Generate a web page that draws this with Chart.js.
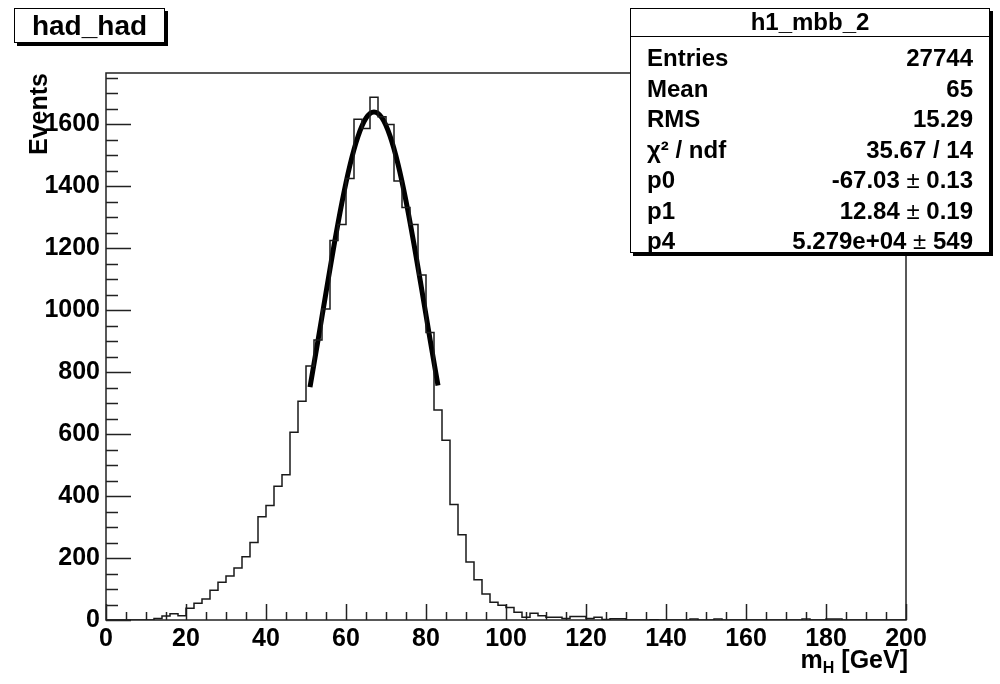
<!DOCTYPE html>
<html>
<head>
<meta charset="utf-8">
<script src="https://cdn.jsdelivr.net/npm/chart.js@4/dist/chart.umd.min.js"></script>
<style>
  body { margin: 0; background: #fff; font-family: "Liberation Sans", Arial, sans-serif; font-weight: bold; }
  #wrap { position: relative; width: 1000px; height: 684px; }
  canvas { position: absolute; left: 0; top: 0; }
  .box { position: absolute; background: #fff; border: 1.5px solid #000; box-shadow: 3px 3px 0 #000; box-sizing: border-box; }
  #title { left: 14px; top: 8px; width: 151px; height: 35px; font-size: 28px; text-align: center; line-height: 33px; }
  #stats { left: 630px; top: 8px; width: 360px; height: 245px; }
  #stats .head { position: absolute; left: 0; right: 0; top: 0; height: 27px; border-bottom: 1.5px solid #000; text-align: center; font-size: 24px; line-height: 26px; }
  #stats .row { position: absolute; left: 16px; right: 16px; height: 30px; font-size: 24px; line-height: 30px; }
  #stats .row .val { position: absolute; right: 0; top: 0; }
  .pm { font-weight: normal; }
  #xtitle { position: absolute; right: 92px; top: 645px; font-size: 25px; }
  #xtitle sub { font-size: 16px; vertical-align: -5px; }
</style>
</head>
<body>
<div id="wrap">
  <canvas id="c" width="1000" height="684"></canvas>
  <div id="title" class="box">had_had</div>
  <div id="stats" class="box"><div class="head">h1_mbb_2</div></div>
  <div id="xtitle">m<sub>H</sub> [GeV]</div>
</div>
<script>
// histogram h1_mbb_2: 100 bins of 2 GeV from 0 to 200
const binWidth = 2;
const counts = [
  0, 0, 0, 0, 0, 0, 5, 13, 20, 14,
  38, 54, 68, 96, 122, 142, 168, 204, 250, 333,
  370, 432, 469, 606, 706, 820, 904, 1004, 1225, 1277,
  1425, 1617, 1587, 1688, 1625, 1600, 1417, 1332, 1277, 1114,
  928, 678, 580, 373, 275, 187, 130, 84, 57, 48,
  40, 25, 9, 22, 14, 9, 9, 5, 11, 11,
  5, 9, 2, 4, 4, 0, 0, 0, 1, 0,
  0, 0, 0, 3, 0, 0, 3, 0, 0, 0,
  0, 0, 0, 0, 0, 0, 0, 3, 0, 0,
  3, 3, 0, 0, 0, 0, 0, 0, 0, 0
];

// fitted curve
const fitX = [51, 53, 55, 57, 59, 61, 63, 65, 67, 69, 71, 73, 75, 77, 79, 81, 83];
const fitY = [752, 903, 1057, 1209, 1349, 1469, 1561, 1620, 1640, 1621, 1563, 1472, 1353, 1213, 1062, 907, 757];

const xTicks = [0, 20, 40, 60, 80, 100, 120, 140, 160, 180, 200];
const yTicks = [0, 200, 400, 600, 800, 1000, 1200, 1400, 1600];
const xMin = 0, xMax = 200, yMax = 1766;

const statRows = [
  ["Entries", "27744"],
  ["Mean", "65"],
  ["RMS", "15.29"],
  ["\u03c7\u00b2 / ndf", "35.67 / 14"],
  ["p0", "-67.03 \u00b1 0.13"],
  ["p1", "12.84 \u00b1 0.19"],
  ["p4", "5.279e+04 \u00b1 549"]
];

const stats = document.getElementById("stats");
statRows.forEach(([k, v], i) => {
  const row = document.createElement("div");
  row.className = "row";
  row.style.top = (34 + i * 30.5) + "px";
  const a = document.createElement("span");
  a.textContent = k;
  const b = document.createElement("span");
  b.className = "val";
  b.innerHTML = v.replace("\u00b1", '<span class="pm">\u00b1</span>');
  row.appendChild(a);
  row.appendChild(b);
  stats.appendChild(row);
});

const histPoints = counts.map((c, i) => ({ x: xMin + i * binWidth, y: c }));
histPoints.push({ x: xMin + counts.length * binWidth, y: counts[counts.length - 1] });
const fitPoints = fitX.map((x, i) => ({ x, y: fitY[i] }));

const axisFont = { family: "Liberation Sans", size: 25, weight: "bold" };

const rootFrame = {
  id: "rootFrame",
  beforeDatasetsDraw(chart) {
    const { ctx, chartArea: a, scales: { x, y } } = chart;
    ctx.save();
    ctx.strokeStyle = "#222";
    ctx.lineWidth = 1.5;
    ctx.strokeRect(a.left, a.top, a.right - a.left, a.bottom - a.top);
    ctx.beginPath();
    for (let v = xMin; v <= xMax; v += 5) {
      const px = Math.round(x.getPixelForValue(v)) + 0.5;
      const len = xTicks.includes(v) ? 16 : 8;
      ctx.moveTo(px, a.bottom);
      ctx.lineTo(px, a.bottom - len);
    }
    for (let v = 0; v <= yMax; v += 50) {
      const py = Math.round(y.getPixelForValue(v)) + 0.5;
      const len = yTicks.includes(v) ? 25 : 12;
      ctx.moveTo(a.left, py);
      ctx.lineTo(a.left + len, py);
    }
    ctx.stroke();
    ctx.restore();
  }
};

new Chart(document.getElementById("c"), {
  type: "line",
  data: {
    datasets: [
      {
        data: histPoints,
        stepped: "before",
        borderColor: "#1a1a1a",
        borderWidth: 1.5,
        pointRadius: 0,
        fill: false
      },
      {
        data: fitPoints,
        borderColor: "#000",
        borderWidth: 5,
        pointRadius: 0,
        cubicInterpolationMode: "monotone",
        fill: false
      }
    ]
  },
  options: {
    responsive: false,
    animation: false,
    layout: { padding: { top: 73, right: 94, left: 0, bottom: 0 } },
    plugins: {
      legend: { display: false },
      tooltip: { enabled: false }
    },
    scales: {
      x: {
        type: "linear",
        min: xMin,
        max: xMax,
        afterBuildTicks: (s) => { s.ticks = xTicks.map((v) => ({ value: v })); },
        afterFit: (s) => { s.height = 64; },
        ticks: {
          color: "#000",
          font: axisFont,
          padding: 4,
          maxRotation: 0,
          autoSkip: false,
          callback: (v) => String(v)
        },
        grid: { display: false, drawTicks: false },
        border: { display: false }
      },
      y: {
        min: 0,
        max: yMax,
        afterBuildTicks: (s) => { s.ticks = yTicks.map((v) => ({ value: v })); },
        afterFit: (s) => { s.width = 106; },
        ticks: {
          color: "#000",
          font: axisFont,
          padding: 6,
          autoSkip: false,
          callback: (v) => String(v)
        },
        grid: { display: false, drawTicks: false },
        border: { display: false },
        title: {
          display: true,
          text: "Events",
          align: "end",
          color: "#000",
          font: axisFont,
          padding: { top: 25, bottom: 0 }
        }
      }
    }
  },
  plugins: [rootFrame]
});
</script>
</body>
</html>
